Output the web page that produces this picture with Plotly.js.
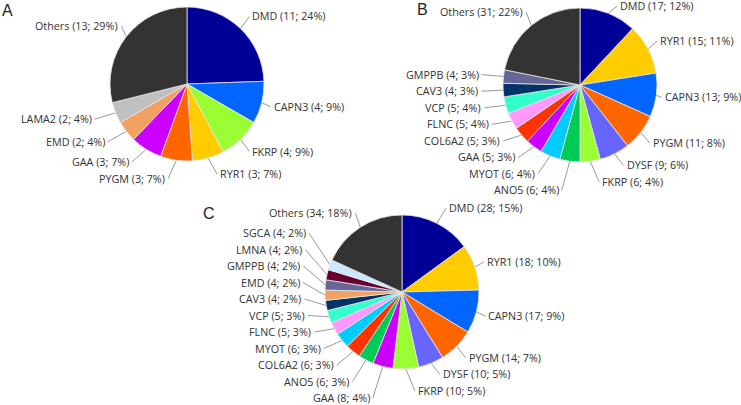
<!DOCTYPE html>
<html>
<head>
<meta charset="utf-8">
<script src="https://cdn.plot.ly/plotly-3.0.1.min.js"></script>
<style>html,body{margin:0;padding:0;background:#fff;}#chart{width:741px;height:405px;}</style>
</head>
<body>
<div id="chart"></div>
<script>
// Panel A
const genesA = ["DMD","CAPN3","FKRP","RYR1","PYGM","GAA","EMD","LAMA2","Others"];
const countsA = [11,4,4,3,3,3,2,2,13];
const pctA = [24,9,9,7,7,7,4,4,29];
// Panel B
const genesB = ["DMD","RYR1","CAPN3","PYGM","DYSF","FKRP","ANO5","MYOT","GAA","COL6A2","FLNC","VCP","CAV3","GMPPB","Others"];
const countsB = [17,15,13,11,9,6,6,6,5,5,5,5,4,4,31];
const pctB = [12,11,9,8,6,4,4,4,3,3,4,4,3,3,22];
// Panel C
const genesC = ["DMD","RYR1","CAPN3","PYGM","DYSF","FKRP","GAA","ANO5","COL6A2","MYOT","FLNC","VCP","CAV3","EMD","GMPPB","LMNA","SGCA","Others"];
const countsC = [28,18,17,14,10,10,8,6,6,6,5,5,4,4,4,4,4,34];
const pctC = [15,10,9,7,5,5,4,3,3,3,3,3,2,2,2,2,2,18];
const panelLetters = ["A","B","C"];

const geneColors = {
  DMD:"#000099", CAPN3:"#0066ff", FKRP:"#99ff33", RYR1:"#ffcc00", PYGM:"#ff6600",
  GAA:"#cc00ff", EMD:"#f0a060", LAMA2:"#c0c0c0", Others:"#333333", DYSF:"#6666ff",
  ANO5:"#00cc55", MYOT:"#00ccff", COL6A2:"#ff3300", FLNC:"#ff99ff", VCP:"#33ffcc",
  CAV3:"#003366", GMPPB:"#666699", LMNA:"#660033", SGCA:"#cce8ff"
};

const W = 741, H = 405;
const LABEL_FONT = {family:"Open Sans", size:10.75, color:"#333"};
const R_OUT = 17, GAP = 16.5, YMIN = 6, YMAX = H - 7, TXT_GAP = 2;

const ctx = document.createElement("canvas").getContext("2d");
ctx.font = LABEL_FONT.size + "px 'Open Sans'";
const textW = t => ctx.measureText(t).width;

function dom(cx, cy, r) {
  return {x:[(cx-r)/W,(cx+r)/W], y:[1-(cy+r)/H, 1-(cy-r)/H]};
}
function pie(genes, counts, domain) {
  return {
    type:"pie", labels:genes, values:counts, textinfo:"none", hoverinfo:"label+value",
    sort:false, direction:"clockwise", rotation:0,
    marker:{colors:genes.map(g=>geneColors[g]), line:{color:"#e6e6e6", width:0.8}},
    domain:domain, showlegend:false
  };
}
// outside labels with leader lines, positioned from each slice's mid-angle
function labelsFor(genes, counts, pct, cx, cy, r) {
  const total = counts.reduce((a,b)=>a+b,0);
  let cum = 0;
  const items = genes.map((g,i)=>{
    const th = (cum + counts[i]/2)/total*2*Math.PI; cum += counts[i];
    const s = Math.sin(th), c = Math.cos(th);
    const side = s>=0?1:-1;
    const px = cx+r*s, py = cy-r*c;
    const dx = side>0 ? 9 : (c > 0.5 ? 5 : 6 + 16*Math.abs(s));
    const text = g+" ("+counts[i]+"; "+pct[i]+"%)";
    let lx = px + side*dx;
    const w = textW(text);
    if (side>0 && lx + TXT_GAP + w > W - 1) lx = W - 1 - TXT_GAP - w;
    return {text, px, py, lx, ly:cy-(r+R_OUT)*c, side};
  });
  [1,-1].forEach(side=>{
    const grp = items.filter(it=>it.side===side).sort((a,b)=>a.ly-b.ly);
    for (let it=0; it<300; it++) {
      for (let k=0; k<grp.length-1; k++) {
        const d = grp[k+1].ly - grp[k].ly;
        if (d < GAP) { const o=(GAP-d)/2; grp[k].ly-=o; grp[k+1].ly+=o; }
      }
      grp.forEach(g=>{ g.ly=Math.max(YMIN, Math.min(YMAX, g.ly)); });
    }
  });
  return items;
}
const panels = [
  {genes:genesA, counts:countsA, pct:pctA, cx:187, cy:84, r:77, lx:1, ly:10},
  {genes:genesB, counts:countsB, pct:pctB, cx:580, cy:85, r:77, lx:416, ly:9},
  {genes:genesC, counts:countsC, pct:pctC, cx:402, cy:292, r:77, lx:202, ly:213}
];
const data = [], annotations = [];
const lineX = [], lineY = [];
panels.forEach((p,pi)=>{
  data.push(pie(p.genes, p.counts, dom(p.cx,p.cy,p.r)));
  labelsFor(p.genes, p.counts, p.pct, p.cx, p.cy, p.r).forEach(it=>{
    lineX.push(it.px, it.lx, null);
    lineY.push(it.py, it.ly, null);
    annotations.push({text:it.text, x:it.lx + it.side*TXT_GAP, y:it.ly, xref:"x", yref:"y",
      xanchor:it.side>0?"left":"right", yanchor:"middle", showarrow:false,
      font:LABEL_FONT, borderpad:0});
  });
  annotations.push({text:panelLetters[pi], x:p.lx, y:p.ly, xref:"x", yref:"y", showarrow:false,
    xanchor:"left", yanchor:"middle", borderpad:0,
    font:{family:"Liberation Sans", size:16, color:"#222"}});
});
data.unshift({type:"scatter", mode:"lines", x:lineX, y:lineY, connectgaps:false, hoverinfo:"skip",
  line:{color:"#9a9a9a", width:1}, showlegend:false});
const layout = {
  width:W, height:H, margin:{l:0,r:0,t:0,b:0}, paper_bgcolor:"#fff", plot_bgcolor:"#fff",
  xaxis:{range:[0,W], visible:false, fixedrange:true, domain:[0,1]},
  yaxis:{range:[H,0], visible:false, fixedrange:true, domain:[0,1]},
  font:{family:"Open Sans", color:"#333"}, annotations:annotations
};
Plotly.newPlot("chart", data, layout, {displayModeBar:false, staticPlot:true});
</script>
</body>
</html>
